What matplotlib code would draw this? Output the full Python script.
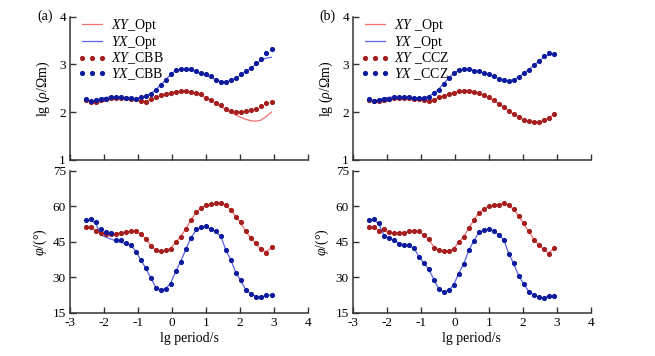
import matplotlib
matplotlib.use('Agg')
import matplotlib.pyplot as plt
from matplotlib.lines import Line2D

plt.rcParams['font.family'] = ['Liberation Serif', 'DejaVu Serif']
plt.rcParams['mathtext.fontset'] = 'custom'
plt.rcParams['mathtext.rm'] = 'Liberation Serif'
plt.rcParams['mathtext.it'] = 'Liberation Serif:italic'
plt.rcParams['axes.unicode_minus'] = False
plt.rcParams['font.size'] = 10

# lg period / s
period = [-2.53, -2.39, -2.24, -2.09, -1.95, -1.80, -1.65, -1.51, -1.36, -1.21,
          -1.06, -0.92, -0.77, -0.62, -0.48, -0.33, -0.18, -0.04, 0.11, 0.26,
          0.41, 0.55, 0.70, 0.85, 0.99, 1.14, 1.29, 1.44, 1.58, 1.73,
          1.88, 2.02, 2.17, 2.32, 2.47, 2.61, 2.76, 2.93]

# (a) CBB
rho_xy_cbb = [2.26, 2.22, 2.22, 2.25, 2.27, 2.29, 2.30, 2.30, 2.29, 2.28,
              2.27, 2.23, 2.22, 2.27, 2.31, 2.35, 2.38, 2.41, 2.43, 2.44,
              2.44, 2.42, 2.40, 2.37, 2.30, 2.26, 2.19, 2.16, 2.07, 2.03,
              2.00, 2.00, 2.02, 2.04, 2.07, 2.12, 2.19, 2.21]
rho_yx_cbb = [2.28, 2.24, 2.25, 2.28, 2.28, 2.31, 2.31, 2.31, 2.30, 2.29,
              2.28, 2.31, 2.33, 2.38, 2.46, 2.56, 2.67, 2.79, 2.88, 2.91,
              2.91, 2.90, 2.86, 2.82, 2.79, 2.75, 2.68, 2.63, 2.63, 2.67,
              2.72, 2.79, 2.86, 2.93, 3.02, 3.12, 3.24, 3.33]
rho_xy_opt_a = [2.24, 2.21, 2.20, 2.21, 2.24, 2.27, 2.29, 2.29, 2.28, 2.27,
                2.26, 2.24, 2.23, 2.26, 2.30, 2.34, 2.38, 2.41, 2.43, 2.44,
                2.44, 2.42, 2.39, 2.35, 2.30, 2.25, 2.18, 2.12, 2.05, 1.99,
                1.94, 1.89, 1.85, 1.82, 1.81, 1.83, 1.90, 2.00]
rho_yx_opt_a = [2.26, 2.22, 2.24, 2.29, 2.31, 2.32, 2.31, 2.30, 2.29, 2.28,
                2.28, 2.30, 2.33, 2.39, 2.47, 2.57, 2.68, 2.79, 2.87, 2.90,
                2.90, 2.88, 2.85, 2.81, 2.77, 2.73, 2.68, 2.64, 2.63, 2.66,
                2.71, 2.78, 2.85, 2.92, 3.00, 3.08, 3.13, 3.15]
phs_xy_cbb = [51.5, 51.3, 49.8, 48.8, 48.2, 48.2, 48.5, 48.8, 49.1, 49.5,
              49.8, 48.2, 46.4, 43.2, 41.4, 41.1, 41.4, 42.1, 45.0, 47.1,
              50.6, 54.1, 57.5, 59.5, 60.4, 60.8, 61.3, 61.6, 60.6, 58.5,
              55.7, 53.2, 49.4, 46.6, 44.4, 41.9, 40.5, 42.8]
phs_yx_cbb = [54.3, 54.7, 53.2, 50.4, 49.0, 48.7, 45.8, 45.6, 44.7, 43.7,
              40.9, 37.4, 33.9, 29.7, 25.7, 24.7, 25.3, 27.3, 32.5, 36.7,
              41.9, 46.6, 50.4, 51.2, 51.8, 50.4, 49.4, 47.5, 41.6, 37.4,
              32.0, 28.7, 24.7, 23.0, 21.9, 21.6, 22.5, 22.6]
phs_xy_opt_a = [51.2, 50.8, 49.9, 49.0, 48.4, 48.3, 48.5, 48.8, 49.1, 49.5,
                49.6, 48.4, 46.3, 43.4, 41.5, 41.1, 41.4, 42.3, 44.8, 47.3,
                50.6, 54.0, 57.3, 59.4, 60.4, 60.9, 61.3, 61.4, 60.5, 58.5,
                55.8, 53.0, 49.5, 46.6, 44.3, 42.0, 40.8, 42.5]
phs_yx_opt_a = [54.3, 54.5, 52.5, 48.0, 47.0, 46.2, 45.4, 44.8, 44.2, 43.6,
                41.0, 37.4, 33.9, 29.7, 25.9, 24.7, 25.3, 27.5, 32.5, 36.9,
                41.9, 46.4, 49.8, 51.0, 51.4, 50.4, 49.2, 47.2, 41.8, 37.4,
                32.0, 28.7, 24.9, 23.1, 22.0, 21.7, 22.2, 22.5]

# (b) CCZ
rho_xy_ccz = [2.26, 2.24, 2.24, 2.26, 2.28, 2.30, 2.30, 2.30, 2.29, 2.28,
              2.27, 2.26, 2.24, 2.25, 2.31, 2.33, 2.38, 2.41, 2.45, 2.45,
              2.45, 2.43, 2.40, 2.35, 2.31, 2.25, 2.18, 2.11, 2.03, 1.96,
              1.90, 1.84, 1.81, 1.79, 1.79, 1.83, 1.88, 1.97]
rho_yx_ccz = [2.28, 2.23, 2.25, 2.28, 2.28, 2.31, 2.31, 2.31, 2.32, 2.29,
              2.29, 2.29, 2.32, 2.40, 2.47, 2.60, 2.72, 2.82, 2.88, 2.91,
              2.91, 2.87, 2.86, 2.82, 2.79, 2.75, 2.70, 2.67, 2.66, 2.68,
              2.74, 2.81, 2.89, 2.98, 3.07, 3.17, 3.24, 3.21]
rho_xy_opt_b = [2.25, 2.22, 2.21, 2.22, 2.24, 2.27, 2.29, 2.29, 2.28, 2.27,
                2.26, 2.25, 2.24, 2.26, 2.30, 2.34, 2.38, 2.41, 2.44, 2.45,
                2.45, 2.43, 2.39, 2.35, 2.30, 2.25, 2.18, 2.11, 2.03, 1.96,
                1.90, 1.84, 1.81, 1.79, 1.79, 1.82, 1.88, 1.96]
rho_yx_opt_b = [2.27, 2.23, 2.26, 2.30, 2.31, 2.32, 2.31, 2.31, 2.30, 2.29,
                2.29, 2.30, 2.33, 2.40, 2.48, 2.60, 2.72, 2.81, 2.88, 2.90,
                2.90, 2.88, 2.85, 2.82, 2.78, 2.75, 2.70, 2.67, 2.66, 2.68,
                2.74, 2.81, 2.89, 2.98, 3.07, 3.15, 3.21, 3.21]
phs_xy_ccz = [51.4, 51.3, 49.6, 50.3, 49.1, 48.6, 48.9, 48.9, 49.4, 49.6,
              49.8, 47.9, 46.3, 42.5, 41.5, 41.1, 41.1, 41.8, 44.9, 47.0,
              51.0, 54.1, 57.3, 58.7, 60.1, 60.4, 60.7, 61.3, 60.6, 58.7,
              55.9, 52.8, 49.4, 46.0, 43.9, 41.8, 40.1, 42.6]
phs_yx_ccz = [54.1, 54.5, 53.1, 47.7, 46.7, 45.7, 44.3, 43.9, 43.5, 42.5,
              38.7, 36.2, 33.4, 29.1, 25.1, 23.7, 24.6, 26.6, 31.6, 35.7,
              41.5, 45.3, 49.1, 50.0, 50.5, 49.6, 48.1, 46.0, 40.1, 35.9,
              30.5, 27.4, 24.0, 22.6, 21.8, 21.2, 22.3, 22.3]
phs_xy_opt_b = [51.3, 50.8, 50.0, 49.6, 49.0, 48.7, 48.9, 49.0, 49.3, 49.6,
                49.6, 48.0, 46.0, 42.8, 41.5, 41.1, 41.2, 42.0, 44.8, 47.2,
                50.9, 54.0, 57.2, 58.8, 60.0, 60.5, 60.9, 61.2, 60.5, 58.6,
                55.8, 52.8, 49.4, 46.1, 43.9, 41.8, 40.4, 42.4]
phs_yx_opt_b = [54.1, 54.3, 52.6, 47.9, 46.6, 45.7, 44.4, 43.9, 43.4, 42.4,
                38.9, 36.2, 33.3, 29.2, 25.2, 23.8, 24.6, 26.8, 31.6, 35.9,
                41.4, 45.3, 48.9, 50.0, 50.4, 49.6, 48.0, 45.8, 40.2, 35.8,
                30.6, 27.3, 24.1, 22.6, 21.8, 21.3, 22.1, 22.3]

c_xy_line = '#ef6f6f'
c_yx_line = '#5a62e6'
c_xy_dot = '#a51d1d'
c_yx_dot = '#0c1a9e'
ms = 2.7

fig = plt.figure(figsize=(6.55, 3.56), dpi=100)

panels = [
    (0.107, '(a)', rho_xy_cbb, rho_yx_cbb, rho_xy_opt_a, rho_yx_opt_a,
     phs_xy_cbb, phs_yx_cbb, phs_xy_opt_a, phs_yx_opt_a),
    (0.539, '(b)', rho_xy_ccz, rho_yx_ccz, rho_xy_opt_b, rho_yx_opt_b,
     phs_xy_ccz, phs_yx_ccz, phs_xy_opt_b, phs_yx_opt_b),
]


def style(ax):
    for s in ['top', 'right']:
        ax.spines[s].set_visible(False)
    for s in ['left', 'bottom']:
        ax.spines[s].set_linewidth(1.1)
        ax.spines[s].set_color('#333333')
    ax.tick_params(direction='in', length=4.5, width=1.0, color='#333333',
                   labelsize=9.5, pad=3)
    ax.set_xlim(-3, 4)
    ax.set_xticks(range(-3, 5))


for left, tag, rxy, ryx, rxo, ryo, pxy, pyx, pxo, pyo in panels:
    ax1 = fig.add_axes([left, 0.551, 0.363, 0.402])
    ax2 = fig.add_axes([left, 0.121, 0.363, 0.399])

    ax1.plot(period, rxo, color=c_xy_line, lw=0.9)
    ax1.plot(period, ryo, color=c_yx_line, lw=0.9)
    ax1.plot(period, rxy, 'o', color=c_xy_dot, ms=ms)
    ax1.plot(period, ryx, 'o', color=c_yx_dot, ms=ms)
    style(ax1)
    ax1.set_ylim(1, 4)
    ax1.set_yticks([1, 2, 3, 4])
    ax1.set_xticklabels([])
    ax1.set_ylabel(r'lg ($\rho$/Ωm)', labelpad=5)

    ax2.plot(period, pxo, color=c_xy_line, lw=0.9)
    ax2.plot(period, pyo, color=c_yx_line, lw=0.9)
    ax2.plot(period, pxy, 'o', color=c_xy_dot, ms=ms)
    ax2.plot(period, pyx, 'o', color=c_yx_dot, ms=ms)
    style(ax2)
    ax2.set_ylim(15, 75)
    ax2.set_yticks([15, 30, 45, 60, 75])
    ax2.set_ylabel(r'$\varphi$/(°)', labelpad=3)
    ax2.set_xlabel('lg period/s', labelpad=2)

    if tag == '(a)':
        labs = [r'$\mathit{XY}$_Opt', r'$\mathit{YX}$_Opt',
                r'$\mathit{XY}$_CBB', r'$\mathit{YX}$_CBB']
    else:
        labs = [r'$\mathit{XY}$ _Opt', r'$\mathit{YX}$ _Opt',
                r'$\mathit{XY}$ _CCZ', r'$\mathit{YX}$ _CCZ']
    handles = [Line2D([], [], color=c_xy_line, lw=0.9),
               Line2D([], [], color=c_yx_line, lw=0.9),
               Line2D([], [], color=c_xy_dot, marker='o', ls='none', ms=ms),
               Line2D([], [], color=c_yx_dot, marker='o', ls='none', ms=ms)]
    ax1.legend(handles, labs, loc='upper left', bbox_to_anchor=(0.01, 1.04),
               frameon=False, fontsize=10, numpoints=3, handlelength=2.0,
               labelspacing=0.0, handletextpad=0.35, borderaxespad=0)

    fig.text(left - 0.027, 0.953, tag, fontsize=10, ha='right', va='center')

fig.savefig('out.png', dpi=100)
